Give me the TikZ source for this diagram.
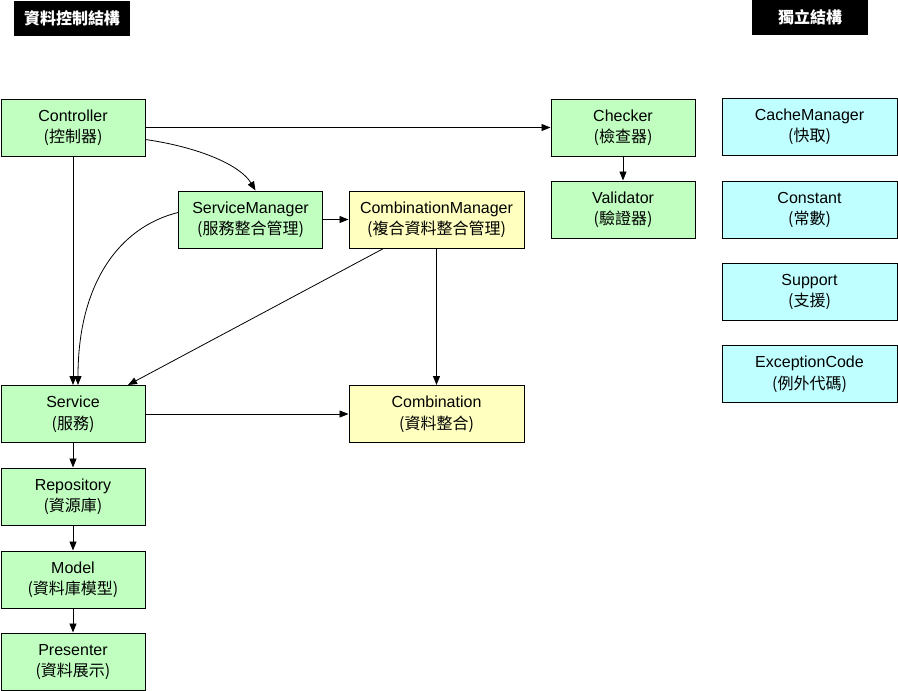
\documentclass[tikz,border=0pt]{standalone}
\usepackage{fontspec}
\setmainfont{Liberation Sans}
\newfontfamily\cjk{Noto Sans CJK TC}
\usetikzlibrary{arrows.meta,calc}
\newcommand\twol[2]{\raisebox{-1.5pt}{\begin{tabular}{@{}c@{}}#1\\{\cjk (#2)}\end{tabular}}}
\begin{document}
\begin{tikzpicture}[x=1pt,y=-1pt,
  box/.style={draw=black, line width=1pt, minimum width=144pt, minimum height=57pt,
    inner sep=0pt, align=center, font=\fontsize{16}{21.5}\selectfont},
  wide/.style={minimum width=175pt},
  green/.style={fill=gbox},
  yellow/.style={fill=ybox},
  cyan/.style={fill=cbox},
  title/.style={fill=black, text=white, minimum width=116pt, minimum height=35pt,
    inner sep=0pt, font=\cjk\bfseries\fontsize{16}{18}\selectfont},
  arr/.style={-{Triangle[length=9pt,width=7pt]}, line width=0.8pt, draw=black}
]
\definecolor{gbox}{HTML}{C0FFC0}
\definecolor{ybox}{HTML}{FFFFC0}
\definecolor{cbox}{HTML}{C0FFFF}
\useasboundingbox (0,0) rectangle (898,691);

\node[title] (t1) at (72,18.5) {資料控制結構};
\node[title] (t2) at (810,17.5) {獨立結構};

\node[box,green] (ctrl) at (73,127.5) {\twol{Controller}{控制器}};
\node[box,green] (chk) at (623,127.5) {\twol{Checker}{檢查器}};
\node[box,green] (val) at (623,209.5) {\twol{Validator}{驗證器}};
\node[box,green] (sm) at (250.5,219.5) {\twol{ServiceManager}{服務整合管理}};
\node[box,yellow,wide] (cm) at (436.5,219.5) {\twol{CombinationManager}{複合資料整合管理}};
\node[box,green] (svc) at (73,414) {\twol{Service}{服務}};
\node[box,yellow,wide] (comb) at (436.5,414) {\twol{Combination}{資料整合}};
\node[box,green] (repo) at (73,496.5) {\twol{Repository}{資源庫}};
\node[box,green] (model) at (73,579.5) {\twol{Model}{資料庫模型}};
\node[box,green] (pres) at (73,661.5) {\twol{Presenter}{資料展示}};

\node[box,cyan,wide] (cache) at (809.5,126.5) {\twol{CacheManager}{快取}};
\node[box,cyan,wide] (const) at (809.5,209.5) {\twol{Constant}{常數}};
\node[box,cyan,wide] (sup) at (809.5,291.5) {\twol{Support}{支援}};
\node[box,cyan,wide] (exc) at (809.5,374) {\twol{ExceptionCode}{例外代碼}};

\draw[arr] (ctrl.east) -- (chk.west);
\draw[arr] ($(ctrl.east)+(0,12)$) .. controls ($(ctrl.east)+(55,20)$) and ($(sm.north)+(-10,-25)$) .. ($(sm.north)+(5,0)$);
\draw[arr] (ctrl.south) -- (svc.north);
\draw[arr] ($(sm.west)+(0,-7)$) .. controls ($(sm.west)+(-60,8)$) and ($(svc.north)+(5,-100)$) .. ($(svc.north)+(5,0)$);
\draw[arr] (sm.east) -- (cm.west);
\draw[arr] ($(cm.south)+(-53,0)$) -- ($(svc.north)+(55,0)$);
\draw[arr] (cm.south) -- (comb.north);
\draw[arr] (svc.east) -- (comb.west);
\draw[arr] (svc.south) -- (repo.north);
\draw[arr] (repo.south) -- (model.north);
\draw[arr] (model.south) -- (pres.north);
\draw[arr] (chk.south) -- (val.north);
\end{tikzpicture}
\end{document}
